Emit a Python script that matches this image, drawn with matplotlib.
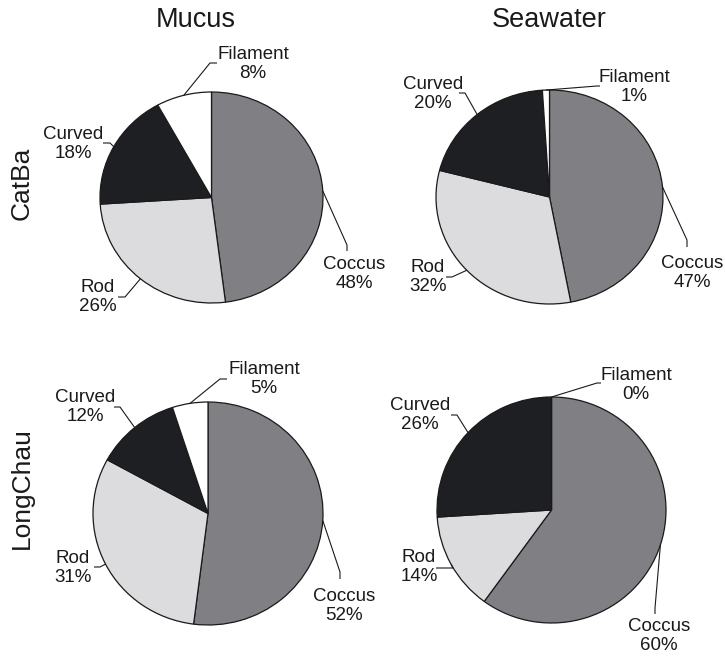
import numpy as np
import matplotlib
matplotlib.use("Agg")
import matplotlib.pyplot as plt
from matplotlib.transforms import Affine2D

plt.rcParams['font.family'] = ['Liberation Sans', 'DejaVu Sans']

# data
shapes = ['Coccus', 'Rod', 'Curved', 'Filament']
sites = ['CatBa', 'LongChau']
sources = ['Mucus', 'Seawater']
catba_mucus = [48, 26, 18, 8]
catba_seawater = [47, 32, 20, 1]
longchau_mucus = [52, 31, 12, 5]
longchau_seawater = [60, 14, 26, 0]

colors = ['#807f84', '#dcdcde', '#1e1f22', 'white']

# layout in pixels (y down): pie centre, x radius, y radius
pies = [
    (catba_mucus, (211.5, 197.5), 111.5, 105.5),
    (catba_seawater, (549.5, 197), 113.5, 107),
    (longchau_mucus, (208, 513.5), 115, 111.5),
    (longchau_seawater, (551.5, 510), 114.5, 113),
]
# text centre, leader elbow, leader end for each shape
label_pos = [
    [((354, 274), (347, 245), (347, 251)),
     ((98, 297), (125, 297), (118, 297)),
     ((73, 144), (110, 143), (103, 143)),
     ((253, 64), (210, 63), (217, 63))],
    [((692, 273), (687, 240), (687, 247)),
     ((428, 277), (452, 277), (446, 277)),
     ((433, 94), (465, 93), (459, 93)),
     ((634, 87), (597, 86), (600, 86))],
    [((344, 606), (340, 572), (340, 579)),
     ((73, 568), (100, 567), (94, 567)),
     ((85, 407), (120, 407), (114, 407)),
     ((264, 379), (220, 379), (227, 379))],
    [((659, 636), (655, 608), (655, 614)),
     ((419, 567), (453, 568), (436, 568)),
     ((420, 415), (457, 415), (451, 415)),
     ((636, 385), (597, 383), (601, 383))],
]

fig = plt.figure(figsize=(7.25, 6.59), dpi=100)
ax = fig.add_axes([0, 0, 1, 1])

txt_color = '#1a1a1a'

for (vals, (cx, cy), rx, ry), labs in zip(pies, label_pos):
    # y axis points down, so counterclock in data is clockwise on screen
    wedges, _ = ax.pie(vals, colors=colors, startangle=-90, counterclock=True,
                       center=(0, 0), radius=1, normalize=True,
                       wedgeprops=dict(edgecolor='#1a1a1a', linewidth=0.9))
    # the original pies are slightly wider than tall
    tr = Affine2D().scale(rx, ry).translate(cx, cy) + ax.transData
    for w in wedges:
        w.set_transform(tr)
    fr = np.array(vals) / np.sum(vals)
    mids = -90 + (np.cumsum(fr) - fr / 2) * 360
    for name, v, th, (tpos, elbow, end) in zip(shapes, vals, mids, labs):
        t = np.deg2rad(th)
        px = cx + rx * np.cos(t)
        py = cy + ry * np.sin(t)
        ax.plot([px, elbow[0], end[0]], [py, elbow[1], end[1]],
                color='#1a1a1a', lw=0.8, solid_capstyle='butt')
        ax.text(tpos[0], tpos[1], f'{name}\n{v}%', ha='center', va='center',
                fontsize=13.5, linespacing=1.12, color=txt_color)

# pie() resets limits and aspect, so set them afterwards
ax.set_xlim(0, 725)
ax.set_ylim(659, 0)
ax.set_aspect('auto')
ax.axis('off')

# column titles and row labels
for name, x in zip(sources, [196, 549]):
    ax.text(x, 20, name, ha='center', va='center', fontsize=19.5, color=txt_color)
for name, y in zip(sites, [183, 488]):
    ax.text(22, y, name, ha='center', va='center', rotation=90,
            fontsize=19, color=txt_color)

fig.savefig('out.png', dpi=100)
